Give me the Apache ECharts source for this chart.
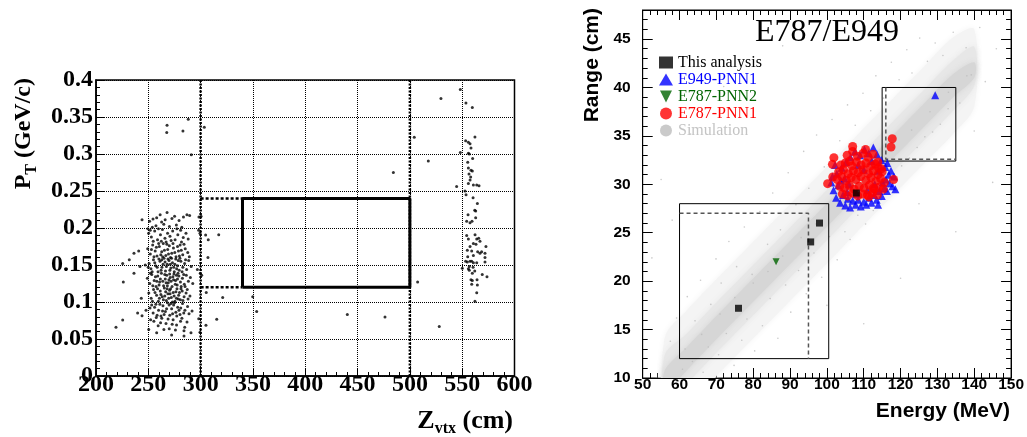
<!DOCTYPE html>
<html><head><meta charset="utf-8">
<script src="https://cdn.jsdelivr.net/npm/echarts@6/dist/echarts.min.js"></script>
<style>html,body{margin:0;padding:0;background:#fff}#c{width:1027px;height:437px}</style>
</head><body><div id="c"></div>
<script>
// ---------- LEFT PANEL DATA : P_T (GeV/c) vs Z_vtx (cm) ----------
const zTicks = [200, 250, 300, 350, 400, 450, 500, 550, 600];
const ptTicks = [0, 0.05, 0.1, 0.15, 0.2, 0.25, 0.3, 0.35, 0.4];
const mainCluster = [
[251.2,0.209],[254.5,0.212],[258.0,0.214],[261.3,0.218],[264.8,0.205],[267.9,0.221],[272.6,0.213],[275.1,0.216],[279.4,0.210],[283.6,0.215],[286.9,0.218],[289.5,0.217],[257.3,0.203],[262.7,0.208],[270.2,0.202],[276.8,0.204],[282.0,0.201],[249.6,0.199],[253.8,0.201],[266.1,0.211],
[250.3,0.193],[252.9,0.188],[256.1,0.196],[258.8,0.184],[261.6,0.191],[263.5,0.198],[265.9,0.186],[268.4,0.193],[270.7,0.189],[273.3,0.196],[275.6,0.184],[278.2,0.191],[280.9,0.197],[283.4,0.187],[286.0,0.193],[259.7,0.199],[267.0,0.181],[271.8,0.183],[277.3,0.199],[254.7,0.182],[262.4,0.182],[281.7,0.181],[288.1,0.185],[251.8,0.197],
[249.4,0.172],[251.9,0.165],[254.2,0.177],[256.6,0.169],[258.3,0.162],[260.5,0.175],[262.8,0.168],[264.3,0.179],[266.7,0.163],[268.5,0.171],[270.1,0.176],[272.4,0.166],[274.0,0.173],[276.5,0.161],[278.8,0.169],[280.4,0.177],[282.9,0.164],[285.3,0.172],[287.7,0.167],[255.4,0.161],[259.9,0.179],[263.7,0.161],[267.8,0.178],[271.2,0.160],[273.6,0.179],[277.9,0.175],[281.5,0.170],[284.1,0.178],[253.0,0.171],[265.4,0.170],[269.3,0.165],[275.3,0.167],[279.7,0.162],[257.7,0.174],[261.9,0.164],[289.2,0.161],
[250.8,0.152],[252.5,0.145],[254.9,0.157],[257.0,0.149],[259.3,0.141],[261.2,0.155],[263.0,0.147],[265.0,0.159],[266.4,0.142],[268.1,0.151],[269.8,0.156],[271.5,0.146],[273.1,0.153],[274.8,0.141],[276.2,0.158],[278.0,0.149],[279.5,0.143],[281.1,0.155],[283.0,0.147],[284.7,0.152],[286.6,0.144],[288.6,0.156],[253.7,0.141],[256.2,0.153],[260.1,0.158],[262.2,0.143],[264.1,0.151],[267.3,0.148],[270.6,0.143],[272.2,0.159],[275.4,0.151],[277.1,0.145],[280.2,0.159],[282.3,0.141],[285.6,0.157],[258.5,0.147],[266.0,0.154],[271.0,0.151],[274.3,0.147],[278.6,0.156],[268.8,0.158],[262.9,0.157],[249.9,0.147],[291.0,0.148],
[249.1,0.132],[251.4,0.125],[253.3,0.137],[255.6,0.129],[257.4,0.121],[259.0,0.135],[260.8,0.127],[262.5,0.139],[264.6,0.122],[266.2,0.131],[267.6,0.136],[269.1,0.126],[270.9,0.133],[272.7,0.121],[274.5,0.138],[276.0,0.129],[277.6,0.123],[279.2,0.135],[280.7,0.127],[282.6,0.132],[284.4,0.124],[286.3,0.136],[288.3,0.128],[254.3,0.122],[256.8,0.134],[261.5,0.131],[263.8,0.128],[265.7,0.137],[268.2,0.122],[271.7,0.128],[273.5,0.134],[275.8,0.124],[278.4,0.139],[281.4,0.121],[283.8,0.137],[258.1,0.128],[267.0,0.126],[270.4,0.138],[274.1,0.130],[277.9,0.131],[252.0,0.139],[285.1,0.121],[260.3,0.123],[269.7,0.130],[276.9,0.136],[290.2,0.133],[292.5,0.125],
[250.5,0.112],[252.7,0.105],[255.0,0.117],[257.9,0.109],[259.6,0.101],[261.4,0.115],[263.3,0.107],[265.3,0.119],[267.2,0.102],[268.7,0.111],[270.3,0.116],[272.0,0.106],[273.8,0.113],[275.5,0.101],[277.4,0.118],[279.0,0.109],[280.6,0.103],[282.4,0.115],[284.2,0.107],[286.1,0.112],[288.0,0.104],[254.0,0.101],[256.4,0.113],[262.0,0.110],[264.4,0.103],[266.6,0.114],[269.5,0.105],[271.3,0.118],[274.7,0.108],[276.4,0.114],[278.7,0.104],[281.2,0.118],[283.1,0.102],[260.6,0.105],[268.0,0.118],[273.0,0.100],[279.8,0.113],[287.2,0.117],[258.8,0.118],[265.8,0.108],[270.8,0.111],[276.9,0.105],[289.8,0.108],
[251.6,0.092],[254.6,0.085],[257.2,0.097],[259.8,0.089],[262.1,0.081],[264.0,0.095],[266.3,0.087],[268.3,0.099],[270.5,0.082],[272.3,0.091],[274.2,0.096],[276.3,0.086],[278.1,0.093],[280.3,0.083],[282.7,0.098],[285.0,0.089],[287.5,0.094],[256.0,0.093],[261.0,0.097],[263.6,0.088],[267.5,0.091],[269.9,0.096],[273.2,0.084],[275.1,0.099],[279.3,0.089],[283.9,0.085],[258.4,0.082],[265.1,0.083],[271.6,0.098],[277.2,0.081],[281.0,0.092],[253.2,0.096],[291.8,0.088],[288.9,0.084],
[255.3,0.074],[259.4,0.068],[262.9,0.078],[266.9,0.071],[270.0,0.064],[273.7,0.076],[277.0,0.069],[280.8,0.074],[284.8,0.066],[264.9,0.063],[268.9,0.077],[275.9,0.062],[261.7,0.072],[272.8,0.070],[282.1,0.078],[257.6,0.079],[287.0,0.073],[252.2,0.076]
];
const sideCluster = [
[553.3,0.318],[555.9,0.316],[557.5,0.314],[558.4,0.308],[555.9,0.301],[556.8,0.300],[560.0,0.294],[555.3,0.289],[555.9,0.281],[558.4,0.278],[559.7,0.277],[556.5,0.273],[558.1,0.269],[557.5,0.265],[555.9,0.260],[560.7,0.258],[563.9,0.258],[566.1,0.257],[552.7,0.250],[553.7,0.245],[560.4,0.241],[564.5,0.233],[562.0,0.224],[562.9,0.223],[555.6,0.218],[562.9,0.214],[554.3,0.209],[557.5,0.207],[559.4,0.209],[554.3,0.190],[562.3,0.191],[555.9,0.185],[560.7,0.179],[563.9,0.185],[565.8,0.186],[567.0,0.182],[557.5,0.175],[563.2,0.178],[554.9,0.170],[559.1,0.169],[564.8,0.168],[567.0,0.166],[568.6,0.168],[555.3,0.161],[560.7,0.163],[557.5,0.155],[553.3,0.155],[554.9,0.154],[559.1,0.155],[560.7,0.153],[563.9,0.153],[556.8,0.148],[560.4,0.147],[556.8,0.143],[562.0,0.142],[559.7,0.139],[558.4,0.130],[559.7,0.129],[564.2,0.130],[564.5,0.123],[559.1,0.124],[555.9,0.145],
[548.2,0.387],[553.6,0.369],[559.7,0.363],[562.2,0.323],[548.2,0.302],[544.7,0.256],[550.1,0.1455],[573.7,0.134],[569.2,0.137],[571.8,0.166],[571.8,0.160],[571.8,0.154],[572.7,0.175],[563.9,0.1126],[562.2,0.101]
];
const scatteredEvents = [
[267.9,0.339],[267.6,0.329],[283.1,0.331],[288.2,0.347],[303.5,0.336],[291.1,0.299],
[317.3,0.191],[307.3,0.184],[307.0,0.160],[304.8,0.1905],[300.4,0.216],[296.9,0.144],[299.7,0.139],[305.4,0.113],[321.1,0.106],[349.8,0.107],[353.6,0.087],[315.4,0.0766],[305.1,0.0685],[298.2,0.0775],[299.4,0.059],[290.8,0.0585],[284.1,0.061],[284.1,0.054],[272.3,0.0555],[258.0,0.0585],[250.4,0.063],[225.5,0.0757],[226.1,0.127],[225.5,0.152],[231.8,0.157],[236.3,0.166],[240.8,0.169],[236.3,0.139],[243.3,0.105],[239.8,0.085],[244.0,0.0815],[247.8,0.089],[244.0,0.211],[247.1,0.150],[242.0,0.148],[219.1,0.066],[298.4,0.215],[298.1,0.197],[299.4,0.193],[301.0,0.136],
[529.7,0.375],[504.2,0.3225],[517.6,0.2905],[484.2,0.275],[507.4,0.127],[440.2,0.083],[476.2,0.0797],[528.1,0.067]
];
// cuts (left panel)
const zCuts = [300, 500];
const boxZ = [340, 500];
const boxPt = [0.12, 0.24];

// ---------- RIGHT PANEL DATA : Range (cm) vs Energy (MeV) ----------
const thisAnalysis = [[98.0,26.0],[95.6,24.05],[76.0,17.2],[108.0,29.1]];
const e787pnn2 = [[86.2,22.0]];
const e949pnn1 = [
[101.2,30.2],[101.8,29.4],[102.5,28.6],[103.1,29.9],[103.6,28.1],[104.4,28.9],[105.0,27.8],[105.7,28.5],[106.3,27.6],[107.0,28.3],[107.8,27.9],[108.5,28.4],[109.2,27.7],[110.0,28.2],[110.7,27.9],[111.4,28.6],[112.1,28.1],[112.8,28.9],[113.5,28.4],[114.2,29.3],[114.9,28.8],[115.6,29.6],[116.3,29.3],[117.0,30.1],[117.8,29.8],[118.6,29.5],[116.8,31.0],[115.9,31.8],[114.8,32.5],[113.6,33.1],[112.6,33.8],[111.4,33.2],[110.2,33.6],[109.0,33.0],[107.6,33.4],[106.4,32.8],[105.2,32.3],[104.0,31.7],[102.7,31.1],[101.5,30.8],[116.0,30.5],[117.4,31.4],[115.1,30.2],[102.2,32.0],[104.8,30.6],[108.0,29.0],[111.0,29.4],[113.0,30.0],[114.0,31.4],[106.0,30.0],[110.0,31.5],[108.5,32.0],[112.2,32.4],[105.5,29.2],[103.8,30.4],[116.4,32.2],[113.9,27.9],[118.2,30.8],[129.4,39.2]
];
const e787pnn1 = [
[105.5,33.0],[107.0,33.4],[108.3,32.9],[109.8,33.2],[111.2,32.8],[112.5,33.1],[106.2,32.4],[110.5,33.6],
[103.8,32.0],[105.0,32.2],[106.8,31.9],[108.0,32.3],[109.3,32.0],[110.6,32.2],[111.9,31.9],[113.1,32.1],[114.0,31.7],
[103.2,31.3],[104.5,31.5],[105.8,31.1],[107.2,31.4],[108.5,31.2],[109.9,31.5],[111.3,31.1],[112.6,31.4],[113.9,31.0],[115.0,31.3],
[102.8,30.5],[104.0,30.8],[105.3,30.4],[106.6,30.7],[107.9,30.5],[109.2,30.8],[110.6,30.4],[112.0,30.7],[113.3,30.3],[114.6,30.6],[115.6,30.2],
[103.5,29.8],[104.8,29.6],[106.1,29.9],[107.4,29.5],[108.8,29.8],[110.1,29.6],[111.5,29.9],[112.8,29.5],[114.1,29.7],[115.3,29.5],
[104.2,29.0],[105.6,28.8],[107.0,29.1],[108.4,28.8],[109.7,29.0],[111.0,28.9],[112.4,29.1],[113.7,28.9],[112.6,29.6],[111.4,28.7],
[101.9,32.75],[101.5,32.06],[100.2,30.07],[101.6,30.75],[107.0,33.9],[113.85,32.3],[114.8,31.6],[117.75,34.7],[117.4,33.85],[118.1,30.5]
];
const simulationDots = [
[57.5,13.8],[59.2,16.2],[60.8,10.9],[62.1,18.4],[63.5,11.7],[64.2,15.9],[65.7,20.1],[66.4,10.6],[67.8,13.2],[68.5,17.6],[69.9,22.3],[70.6,12.4],[71.3,19.8],[72.7,14.6],[73.4,24.1],[74.8,11.3],[75.5,21.5],[76.9,13.9],[77.6,25.6],[78.3,16.1],[79.7,20.7],[80.4,12.8],[81.8,27.2],[82.5,15.4],[83.9,23.8],[84.6,18.2],[85.3,29.1],[86.7,14.1],[87.4,25.3],[88.8,19.6],[89.5,31.2],[90.2,16.8],[91.6,27.9],[92.3,21.1],[93.7,33.4],[94.4,18.7],[95.1,29.6],[96.5,22.9],[97.2,35.1],[98.6,20.4],[99.3,31.8],[100.7,24.6],[101.4,36.7],[102.8,22.2],[103.5,34.5],[104.9,25.1],[105.6,38.2],[106.3,24.3],[107.7,36.1],[108.4,26.8],[109.8,39.4],[110.5,25.9],[111.9,37.6],[112.6,27.3],[113.3,41.2],[114.7,28.4],[115.4,38.9],[116.8,29.7],[117.5,42.6],[118.2,30.5],[119.6,40.8],[120.3,31.9],[121.7,43.9],[122.4,32.7],[123.1,41.5],[124.5,33.8],[125.2,45.1],[126.6,34.9],[127.3,42.7],[128.7,35.4],[129.4,44.6],[130.8,36.2],[131.5,43.3],[132.9,37.8],[134.3,45.7],[136.1,38.4],[137.8,44.1],[139.2,41.3],[141.5,46.2],[143.0,40.6],
[61.5,13.0],[66.0,14.5],[71.0,16.6],[75.0,18.3],[80.0,19.8],[84.0,21.0],[88.0,22.6],[93.0,24.5],[97.0,25.9],[103.0,28.1],[108.0,30.1],[113.0,31.9],[118.0,33.8],[123.0,35.6],[128.0,37.5],[133.0,39.5],[138.0,41.2],
[55.0,30.5],[63.0,35.2],[72.0,40.1],[88.0,44.3],[95.0,12.5],[120.0,20.3],[135.0,25.1],[145.0,30.2],[110.0,15.6],[52.5,22.4],[58.0,26.3],[100.0,17.5],[125.0,28.0],[140.0,35.5],[146.0,44.0]
];
// simulated density band (outer / middle / inner envelopes)
const simBandE     = [56, 62, 70, 78, 86, 94, 102, 110, 118, 126, 134, 140];
const simOuterLow  = [5.2, 7.0, 10.2, 13.3, 16.4, 19.5, 22.6, 25.8, 28.9, 32.0, 35.1, 38.0];
const simOuterHigh = [14.2, 17.0, 20.2, 23.3, 26.4, 29.5, 32.6, 35.8, 38.9, 42.0, 45.1, 46.0];
const simMidLow    = [7.0, 9.4, 12.6, 15.7, 18.8, 21.9, 25.0, 28.2, 31.3, 34.4, 37.5, 40.2];
const simMidHigh   = [12.4, 14.6, 17.8, 20.9, 24.0, 27.1, 30.2, 33.4, 36.5, 39.6, 42.7, 44.2];
const simInnerLow  = [8.6, 10.8, 14.0, 17.1, 20.2, 23.3, 26.4, 29.6, 32.7, 35.8, 38.9, 41.0];
const simInnerHigh = [10.8, 13.2, 16.4, 19.5, 22.6, 25.7, 28.8, 32.0, 35.1, 38.2, 41.3, 42.6];
// signal boxes (right panel)
const lowBoxE = [60, 100.5], lowBoxR = [12, 28];
const lowDashE = [60, 95], lowDashR = [12, 27];
const highBoxE = [115, 135], highBoxR = [32.4, 40];
const highDashE = [116, 135], highDashR = [32.6, 40];

// ---------- BUILD ----------
const serif = '"Liberation Serif", "Times New Roman", serif';
const sans = '"Liberation Sans", Arial, sans-serif';
function rectPts(xs, ys){ return [[xs[0],ys[0]],[xs[1],ys[0]],[xs[1],ys[1]],[xs[0],ys[1]],[xs[0],ys[0]]]; }
function lineS(data, xi, yi, ls, z){ return {type:'line', xAxisIndex:xi, yAxisIndex:yi, data:data, showSymbol:false, symbol:'none', lineStyle:ls, z:z||3, silent:true, clip:true}; }
const bands = [
  {low: simOuterLow, high: simOuterHigh, color:'#f4f4f4'},
  {low: simMidLow, high: simMidHigh, color:'#e7e7e7'},
  {low: simInnerLow, high: simInnerHigh, color:'#d6d6d6'}
];
const chart = echarts.init(document.getElementById('c'), null, {renderer:'canvas'});
const option = {
  animation:false,
  grid:[
    {left:96, top:80, width:418.5, height:296, show:true, borderColor:'#000', borderWidth:1.5, backgroundColor:'transparent'},
    {left:642.7, top:10, width:369.3, height:368, show:true, borderColor:'#000', borderWidth:1, backgroundColor:'transparent'}
  ],
  xAxis:[
    {gridIndex:0, type:'value', min:zTicks[0], max:zTicks[zTicks.length-1], interval:50, position:'bottom',
     axisLine:{onZero:false, lineStyle:{color:'#000', width:1.5}},
     axisTick:{inside:true, length:8, lineStyle:{color:'#000', width:1}},
     minorTick:{show:true, splitNumber:5, length:4, lineStyle:{color:'#000', width:1}},
     axisLabel:{margin:-3, fontFamily:serif, fontWeight:'bold', fontSize:24, color:'#000'},
     splitLine:{show:true, lineStyle:{type:'dotted', color:'#000', width:1}}},
    {gridIndex:1, type:'value', min:50, max:150, interval:10, position:'bottom',
     axisLine:{onZero:false, lineStyle:{color:'#000', width:1}},
     axisTick:{inside:true, length:10, lineStyle:{color:'#000'}},
     minorTick:{show:true, splitNumber:5, length:5, lineStyle:{color:'#000'}},
     axisLabel:{margin:-1, fontFamily:sans, fontWeight:'bold', fontSize:15.5, color:'#000'},
     splitLine:{show:false}},
    {gridIndex:1, type:'value', min:50, max:150, interval:10, position:'top',
     axisLine:{onZero:false, lineStyle:{color:'#000', width:1}},
     axisTick:{inside:true, length:10, lineStyle:{color:'#000'}},
     minorTick:{show:true, splitNumber:5, length:5, lineStyle:{color:'#000'}},
     axisLabel:{show:false}, splitLine:{show:false}}
  ],
  yAxis:[
    {gridIndex:0, type:'value', min:ptTicks[0], max:ptTicks[ptTicks.length-1], interval:0.05, position:'left',
     axisLine:{onZero:false, lineStyle:{color:'#000', width:1.5}},
     axisTick:{inside:true, length:8, lineStyle:{color:'#000'}},
     minorTick:{show:true, splitNumber:5, length:4, lineStyle:{color:'#000'}},
     axisLabel:{margin:3, fontFamily:serif, fontWeight:'bold', fontSize:24, color:'#000'},
     splitLine:{show:true, lineStyle:{type:'dotted', color:'#000', width:1}}},
    {gridIndex:1, type:'value', min:10, max:48, interval:5, position:'left',
     axisLine:{onZero:false, lineStyle:{color:'#000', width:1}},
     axisTick:{inside:true, length:10, lineStyle:{color:'#000'}},
     minorTick:{show:true, splitNumber:5, length:5, lineStyle:{color:'#000'}},
     axisLabel:{margin:12, fontFamily:sans, fontWeight:'bold', fontSize:15.5, color:'#000', showMaxLabel:false,
       formatter:v => (v % 5 === 0 ? String(v) : '')},
     splitLine:{show:false}},
    {gridIndex:1, type:'value', min:10, max:48, interval:5, position:'right',
     axisLine:{onZero:false, lineStyle:{color:'#000', width:1}},
     axisTick:{inside:true, length:10, lineStyle:{color:'#000'}},
     minorTick:{show:true, splitNumber:5, length:5, lineStyle:{color:'#000'}},
     axisLabel:{show:false}, splitLine:{show:false}}
  ],
  legend:{
    orient:'vertical', left:659, top:54, padding:0, itemGap:0, itemWidth:14, itemHeight:12, selectedMode:false,
    textStyle:{fontFamily:serif, fontSize:16, lineHeight:17},
    data:[
      {name:'This analysis', icon:'rect', textStyle:{color:'#000000'}},
      {name:'E949-PNN1', icon:'triangle', textStyle:{color:'#0000ff'}},
      {name:'E787-PNN2', icon:'path://M0,0L10,0L5,10Z', textStyle:{color:'#006400'}},
      {name:'E787-PNN1', icon:'circle', textStyle:{color:'#ff0000'}},
      {name:'Simulation', icon:'circle', textStyle:{color:'#c4c4c4'}}
    ]
  },
  graphic:[
    {type:'text', x:827, y:33, style:{text:'E787/E949', fontSize:32, fontFamily:serif, fill:'#000', align:'center', verticalAlign:'middle'}},
    {type:'text', x:24, y:78, rotation:Math.PI/2, style:{
      text:'{m|P}{s|T}{m| (GeV/c)}', align:'right', verticalAlign:'middle',
      rich:{m:{fontSize:24, fontWeight:'bold', fontFamily:serif, lineHeight:31, fill:'#000'},
            s:{fontSize:16, fontWeight:'bold', fontFamily:serif, lineHeight:16, verticalAlign:'bottom', fill:'#000'}}}},
    {type:'text', x:513, y:421, style:{
      text:'{m|Z}{s|vtx}{m| (cm)}', align:'right', verticalAlign:'middle',
      rich:{m:{fontSize:26, fontWeight:'bold', fontFamily:serif, lineHeight:32, fill:'#000'},
            s:{fontSize:16, fontWeight:'bold', fontFamily:serif, lineHeight:16, verticalAlign:'bottom', fill:'#000'}}}},
    {type:'text', x:592, y:8, rotation:Math.PI/2, style:{text:'Range (cm)', fontSize:21, fontWeight:'bold', fontFamily:sans, fill:'#000', align:'right', verticalAlign:'middle'}},
    {type:'text', x:1010, y:411, style:{text:'Energy (MeV)', fontSize:21, fontWeight:'bold', fontFamily:sans, fill:'#000', align:'right', verticalAlign:'middle'}}
  ],
  series:[
    // ----- left panel -----
    {type:'scatter', name:'events', xAxisIndex:0, yAxisIndex:0, symbol:'circle', symbolSize:3,
     itemStyle:{color:'#000'}, data: mainCluster.concat(sideCluster, scatteredEvents), z:4, silent:true},
    lineS([[zCuts[0],ptTicks[0]],[zCuts[0],ptTicks[ptTicks.length-1]]], 0, 0, {color:'#000', width:2.5, type:[2,1.5]}),
    lineS([[zCuts[1],ptTicks[0]],[zCuts[1],ptTicks[ptTicks.length-1]]], 0, 0, {color:'#000', width:2.5, type:[2,1.5]}),
    lineS(rectPts(boxZ, boxPt), 0, 0, {color:'#000', width:3, type:'solid'}),
    lineS([[zCuts[0],boxPt[1]],[boxZ[0],boxPt[1]]], 0, 0, {color:'#000', width:2.5, type:[3,2]}),
    lineS([[zCuts[0],boxPt[0]],[boxZ[0],boxPt[0]]], 0, 0, {color:'#000', width:2.5, type:[3,2]}),
    // ----- right panel -----
    {type:'custom', name:'simBand', xAxisIndex:1, yAxisIndex:1, clip:true, silent:true, z:1,
     data: bands.map((b,i)=>[simBandE[0], b.low[0], i]),
     encode:{x:0, y:1},
     renderItem:function(params, api){
       const b = bands[api.value(2)];
       const pts = [];
       for (let k=0;k<simBandE.length;k++) pts.push(api.coord([simBandE[k], b.low[k]]));
       for (let k=simBandE.length-1;k>=0;k--) pts.push(api.coord([simBandE[k], b.high[k]]));
       return {type:'polygon', shape:{points:pts, smooth:0.3}, style:{fill:b.color, shadowBlur:6, shadowColor:b.color}};
     }},
    {type:'scatter', name:'Simulation', xAxisIndex:1, yAxisIndex:1, symbol:'circle', symbolSize:1.6,
     itemStyle:{color:'#bdbdbd'}, data:simulationDots, z:2, silent:true},
    lineS(rectPts(lowBoxE, lowBoxR), 1, 1, {color:'#000', width:1, type:'solid'}),
    lineS([[lowDashE[0],lowDashR[1]],[lowDashE[1],lowDashR[1]],[lowDashE[1],lowDashR[0]]], 1, 1, {color:'#555', width:1.5, type:[4,3]}),
    lineS(rectPts(highBoxE, highBoxR), 1, 1, {color:'#000', width:1, type:'solid'}),
    lineS([[highDashE[0],highDashR[1]],[highDashE[0],highDashR[0]],[highDashE[1],highDashR[0]]], 1, 1, {color:'#555', width:1.5, type:[4,3]}),
    {type:'scatter', name:'E949-PNN1', xAxisIndex:1, yAxisIndex:1, symbol:'triangle', symbolSize:8,
     itemStyle:{color:'#0000ff'}, data:e949pnn1, z:5, silent:true},
    {type:'scatter', name:'E787-PNN2', xAxisIndex:1, yAxisIndex:1, symbol:'path://M0,0L10,0L5,10Z', symbolSize:7,
     itemStyle:{color:'#006400'}, data:e787pnn2, z:6, silent:true},
    {type:'scatter', name:'E787-PNN1', xAxisIndex:1, yAxisIndex:1, symbol:'circle', symbolSize:9,
     itemStyle:{color:'#ff0000'}, data:e787pnn1, z:7, silent:true},
    {type:'scatter', name:'This analysis', xAxisIndex:1, yAxisIndex:1, symbol:'rect', symbolSize:7,
     itemStyle:{color:'#000'}, data:thisAnalysis, z:8, silent:true}
  ]
};
chart.setOption(option);
</script>
</body></html>
